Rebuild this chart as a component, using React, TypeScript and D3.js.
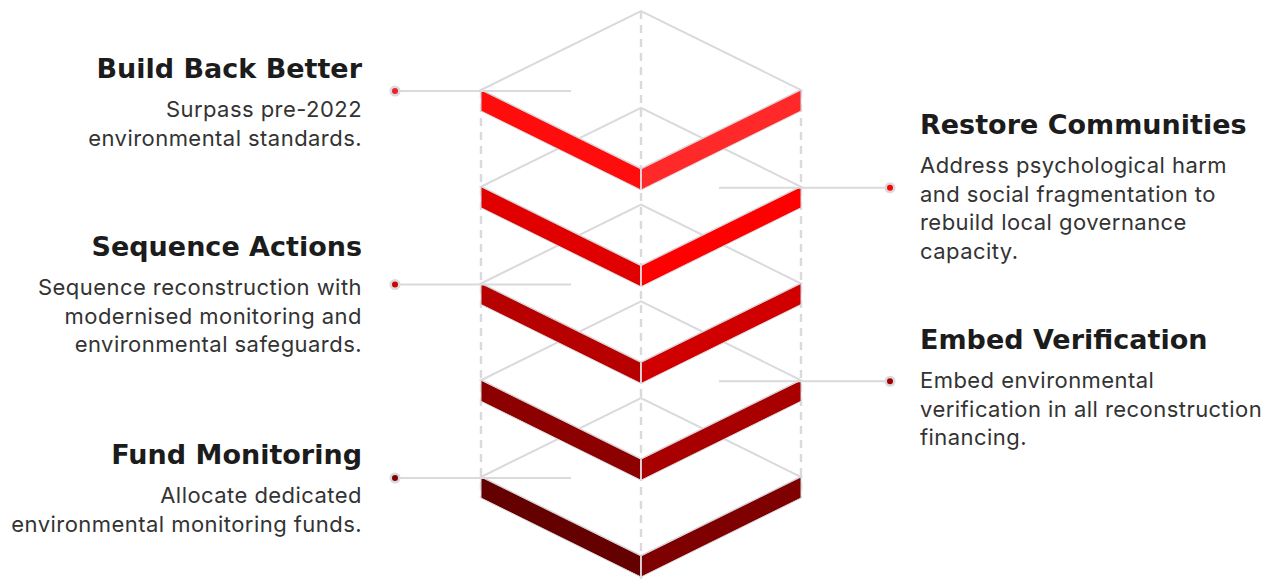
import React from "react";
import * as d3 from "d3";

const titles = ["Build Back Better", "Restore Communities", "Sequence Actions", "Embed Verification", "Fund Monitoring"];
const descriptions = [
  ["Surpass pre-2022", "environmental standards."],
  ["Address psychological harm", "and social fragmentation to", "rebuild local governance", "capacity."],
  ["Sequence reconstruction with", "modernised monitoring and", "environmental safeguards."],
  ["Embed environmental", "verification in all reconstruction", "financing."],
  ["Allocate dedicated", "environmental monitoring funds."],
];
const sides = ["left", "right", "left", "right", "left"];
const leftColors = ["#ff0d0d", "#e00000", "#b70000", "#8d0000", "#640000"];
const rightColors = ["#ff2929", "#ff0000", "#d00000", "#a80000", "#7e0000"];
const dotColors = ["#f0202a", "#ff0000", "#d00000", "#a00000", "#800000"];
const titleY = [78, 134, 256, 349, 464];

const W = 1276;
const H = 579;
const GREY = "#d9d9de";

export default function App() {
  const idx = d3.range(titles.length);
  const yTop = d3.scaleLinear().domain([0, 4]).range([11, 398]);
  const cx = 641;
  const hw = 160;
  const hh = 79;
  const t = 21;
  const x = d3.scaleLinear().domain([-1, 1]).range([cx - hw, cx + hw]);
  const line = d3.line<[number, number]>();

  return (
    <svg width={W} height={H} style={{ position: "absolute", left: 0, top: 0 }}>
      {/* dashed verticals */}
      <line x1={x(0)} x2={x(0)} y1={yTop(0)} y2={H} stroke={GREY} strokeWidth={2.4} strokeDasharray="8 6" />
      <line x1={x(-1)} x2={x(-1)} y1={yTop(0) + hh} y2={yTop(4) + hh + t} stroke={GREY} strokeWidth={2.4} strokeDasharray="8 6" />
      <line x1={x(1)} x2={x(1)} y1={yTop(0) + hh} y2={yTop(4) + hh + t} stroke={GREY} strokeWidth={2.4} strokeDasharray="8 6" />
      {/* top faces */}
      {idx.map((i) => {
        const y0 = yTop(i);
        const pts: [number, number][] = [
          [x(-1), y0 + hh],
          [x(0), y0],
          [x(1), y0 + hh],
          [x(0), y0 + 2 * hh],
          [x(-1), y0 + hh],
        ];
        return <path key={"f" + i} d={line(pts) + "Z"} fill="none" stroke={GREY} strokeWidth={2} />;
      })}
      {/* bands */}
      {idx.map((i) => {
        const y0 = yTop(i);
        const lp: [number, number][] = [
          [x(-1), y0 + hh],
          [x(0), y0 + 2 * hh],
          [x(0), y0 + 2 * hh + t],
          [x(-1), y0 + hh + t],
        ];
        const rp: [number, number][] = [
          [x(0), y0 + 2 * hh],
          [x(1), y0 + hh],
          [x(1), y0 + hh + t],
          [x(0), y0 + 2 * hh + t],
        ];
        return (
          <g key={"b" + i}>
            <path d={line(lp) + "Z"} fill={leftColors[i]} stroke={GREY} strokeWidth={1} strokeLinejoin="round" />
            <path d={line(rp) + "Z"} fill={rightColors[i]} stroke={GREY} strokeWidth={1} strokeLinejoin="round" />
            <line x1={x(0)} x2={x(0)} y1={y0 + 2 * hh} y2={y0 + 2 * hh + t} stroke="#e4e4e8" strokeWidth={1.5} />
          </g>
        );
      })}
      {/* connectors */}
      {idx.map((i) => {
        const yc = yTop(i) + hh + 1;
        const left = sides[i] === "left";
        const xDot = left ? 395 : 890;
        const xEnd = left ? 571 : 719;
        return (
          <g key={"c" + i}>
            <line x1={xDot} x2={xEnd} y1={yc} y2={yc} stroke={GREY} strokeWidth={2} />
            <circle cx={xDot} cy={yc} r={5.5} fill={GREY} />
            <circle cx={xDot} cy={yc} r={3} fill={dotColors[i]} />
          </g>
        );
      })}
      {/* texts */}
      {idx.map((i) => {
        const left = sides[i] === "left";
        const tx = left ? 362 : 920;
        const anchor = left ? "end" : "start";
        return (
          <g key={"t" + i}>
            <text x={tx} y={titleY[i]} textAnchor={anchor} fontFamily="'DejaVu Sans', sans-serif" fontWeight={700} fontSize={27} fill="#1c1c1c">
              {titles[i]}
            </text>
            {descriptions[i].map((d, j) => (
              <text key={j} x={tx} y={titleY[i] + 39 + j * 28.5} textAnchor={anchor} fontFamily="Inter, sans-serif" fontSize={22} letterSpacing={0.45} fill="#333333">
                {d}
              </text>
            ))}
          </g>
        );
      })}
    </svg>
  );
}
